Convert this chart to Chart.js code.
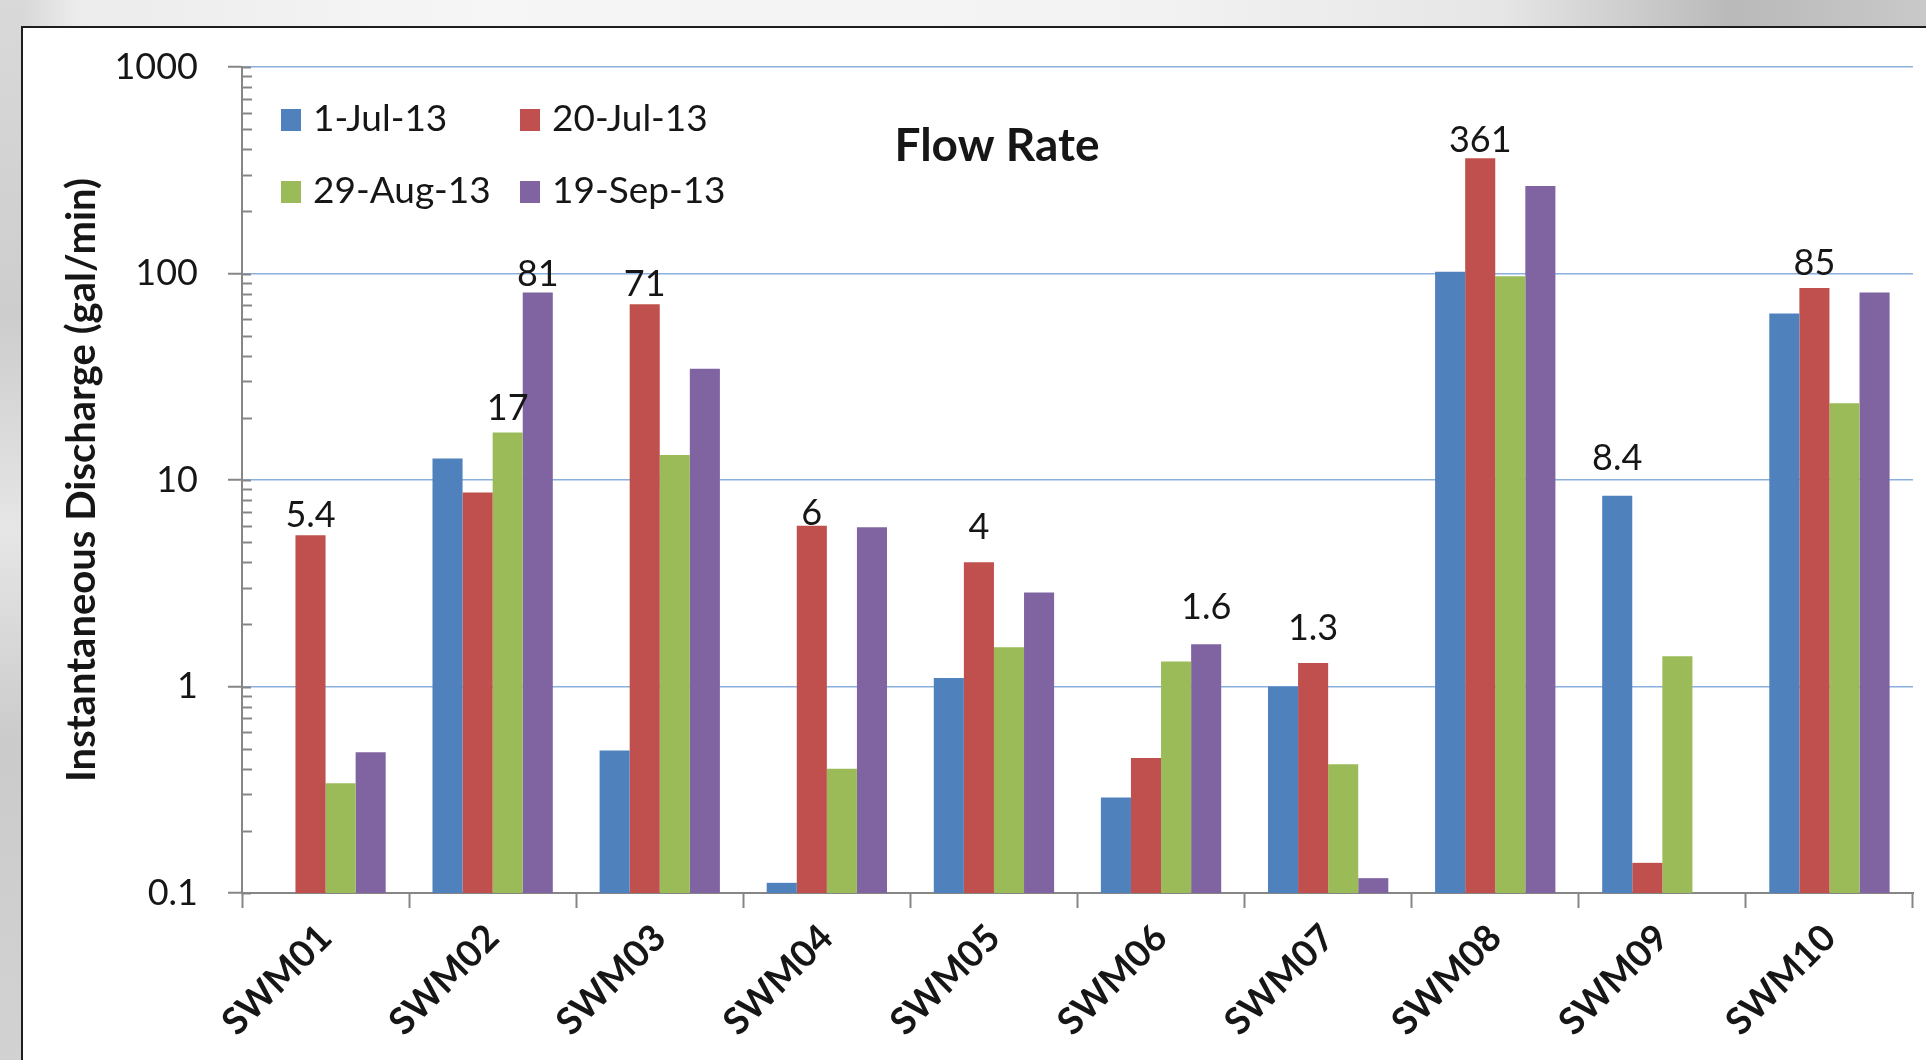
<!DOCTYPE html>
<html>
<head>
<meta charset="utf-8">
<title>Flow Rate</title>
<script src="https://cdn.jsdelivr.net/npm/chart.js@4.4.1/dist/chart.umd.min.js"></script>
<style>
  html, body { margin: 0; padding: 0; width: 1926px; height: 1060px; overflow: hidden; background: #d4d4d4; }
  #topband { position: absolute; left: 0; top: 0; width: 1926px; height: 30px;
    background: linear-gradient(to right, #d0d0d0 0%, #ececec 4%, #f6f6f6 25%, #f2f2f2 60%, #e6e6e6 78%, #b9b9b9 90%, #c9c9c9 100%); }
  #leftband { position: absolute; left: 0; top: 0; width: 24px; height: 1060px;
    background: linear-gradient(to bottom, #d9d9d9 0%, #cdcdcd 30%, #e6e6e6 50%, #cbcbcb 70%, #d2d2d2 100%); }
  #frame { position: absolute; left: 21px; top: 26px; width: 1940px; height: 1100px;
    border: 2px solid #1e1e1e; background: #ffffff; }
  #c { position: absolute; left: 0; top: 0; }
</style>
</head>
<body>
<div id="topband"></div>
<div id="leftband"></div>
<div id="frame"></div>
<canvas id="c" width="1926" height="1060"></canvas>
<script>
// Monitoring stations along the x axis
const categories = ['SWM01', 'SWM02', 'SWM03', 'SWM04', 'SWM05', 'SWM06', 'SWM07', 'SWM08', 'SWM09', 'SWM10'];

// Sampling dates (one series each)
const seriesNames = ['1-Jul-13', '20-Jul-13', '29-Aug-13', '19-Sep-13'];

// Instantaneous discharge, gal/min (null = no measurement)
const jul01 = [null, 12.7, 0.49, 0.112, 1.1, 0.29, 1.0, 102, 8.4, 64];
const jul20 = [5.4, 8.7, 71, 6, 4, 0.45, 1.3, 361, 0.14, 85];
const aug29 = [0.34, 17, 13.2, 0.4, 1.55, 1.32, 0.42, 97, 1.4, 23.5];
const sep19 = [0.48, 81, 34.6, 5.9, 2.85, 1.6, 0.118, 265, null, 81];

// Decade ticks on the logarithmic value axis
const yTickValues = [0.1, 1, 10, 100, 1000];

// Bars that carry a value label: [series index, station index]
const labeledBars = [[1, 0], [2, 1], [3, 1], [1, 2], [1, 3], [1, 4], [3, 5], [1, 6], [1, 7], [0, 8], [1, 9]];
// Extra lift (px) of each of those labels above its bar
const labelLift = [2, 6, 0, 2, -5, 17, 19, 17, 0, 20, 7];

const seriesColors = ['#4F81BD', '#C0504D', '#9BBB59', '#8064A2'];
const FONT = 'Lato, "Open Sans", sans-serif';
const AXIS_GRAY = '#868686';
const TEXT = '#161616';

// Minor tick marks inside the y axis, labels on selected bars, title and legend
const overlay = {
  id: 'overlay',
  afterDatasetsDraw(chart) {
    const ctx = chart.ctx;
    const ys = chart.scales.y;
    const ax = chart.chartArea.left;
    ctx.save();

    ctx.strokeStyle = AXIS_GRAY;
    ctx.lineWidth = 2;
    for (let d = 0; d < yTickValues.length; d++) {
      const dec = yTickValues[d];
      const py = Math.round(ys.getPixelForValue(dec)) + 0.5;
      ctx.beginPath(); ctx.moveTo(ax, py); ctx.lineTo(ax + 9, py); ctx.stroke();
      if (d === yTickValues.length - 1) break;
      for (let m = 2; m <= 9; m++) {
        const my = Math.round(ys.getPixelForValue(m * dec)) + 0.5;
        ctx.beginPath(); ctx.moveTo(ax, my); ctx.lineTo(ax + 10, my); ctx.stroke();
      }
    }

    ctx.fillStyle = TEXT;
    ctx.font = '36px ' + FONT;
    ctx.textAlign = 'center';
    ctx.textBaseline = 'alphabetic';
    labeledBars.forEach(([s, i], n) => {
      const bar = chart.getDatasetMeta(s).data[i];
      const v = chart.data.datasets[s].data[i];
      ctx.fillText(String(v), bar.x, bar.y - 6 - labelLift[n]);
    });

    ctx.font = 'bold 46px ' + FONT;
    ctx.fillText('Flow Rate', 997, 161);

    const cols = [281, 520];
    const rows = [131, 203];
    ctx.font = '37px ' + FONT;
    ctx.textAlign = 'left';
    chart.data.datasets.forEach((ds, k) => {
      const cx = cols[k % 2];
      const by = rows[Math.floor(k / 2)];
      ctx.fillStyle = ds.backgroundColor;
      ctx.fillRect(cx, by - 22, 20, 22);
      ctx.fillStyle = TEXT;
      ctx.fillText(ds.label, cx + 32, by);
    });
    ctx.restore();
  }
};

const seriesData = [jul01, jul20, aug29, sep19];

new Chart(document.getElementById('c'), {
  type: 'bar',
  data: {
    labels: categories,
    datasets: seriesNames.map((name, k) => ({
      label: name,
      data: seriesData[k],
      backgroundColor: seriesColors[k],
      borderWidth: 0,
      categoryPercentage: 0.72,
      barPercentage: 1.0
    }))
  },
  options: {
    responsive: false,
    animation: false,
    layout: { padding: { top: 67, right: 13, left: 0, bottom: 0 } },
    plugins: {
      legend: { display: false },
      title: { display: false },
      tooltip: { enabled: false }
    },
    scales: {
      x: {
        offset: true,
        afterFit: s => { s.height = 167; },
        grid: { offset: true, drawOnChartArea: false, drawTicks: true, tickLength: 15, tickColor: AXIS_GRAY, tickWidth: 2 },
        border: { color: AXIS_GRAY, width: 2 },
        ticks: {
          autoSkip: false, minRotation: 45, maxRotation: 45, padding: 8,
          color: TEXT, font: { family: FONT, size: 37, weight: 'bold' }
        }
      },
      y: {
        type: 'logarithmic',
        min: 0.1,
        max: 1000,
        afterBuildTicks: s => { s.ticks = yTickValues.map(v => ({ value: v })); },
        afterFit: s => { s.width = 242; },
        grid: {
          color: ctx => (ctx.tick && ctx.tick.value === 0.1) ? 'rgba(0,0,0,0)' : '#8AB0DE',
          lineWidth: 1.5, tickColor: AXIS_GRAY, tickLength: 14, tickWidth: 2
        },
        border: { color: AXIS_GRAY, width: 2 },
        ticks: {
          padding: 30, color: TEXT,
          font: { family: FONT, size: 36 },
          callback: v => String(v)
        },
        title: {
          display: true,
          text: 'Instantaneous Discharge (gal/min)',
          color: TEXT,
          font: { family: FONT, size: 40, weight: 'bold' },
          padding: { top: 58, bottom: 0 }
        }
      }
    }
  },
  plugins: [overlay]
});
</script>
</body>
</html>
